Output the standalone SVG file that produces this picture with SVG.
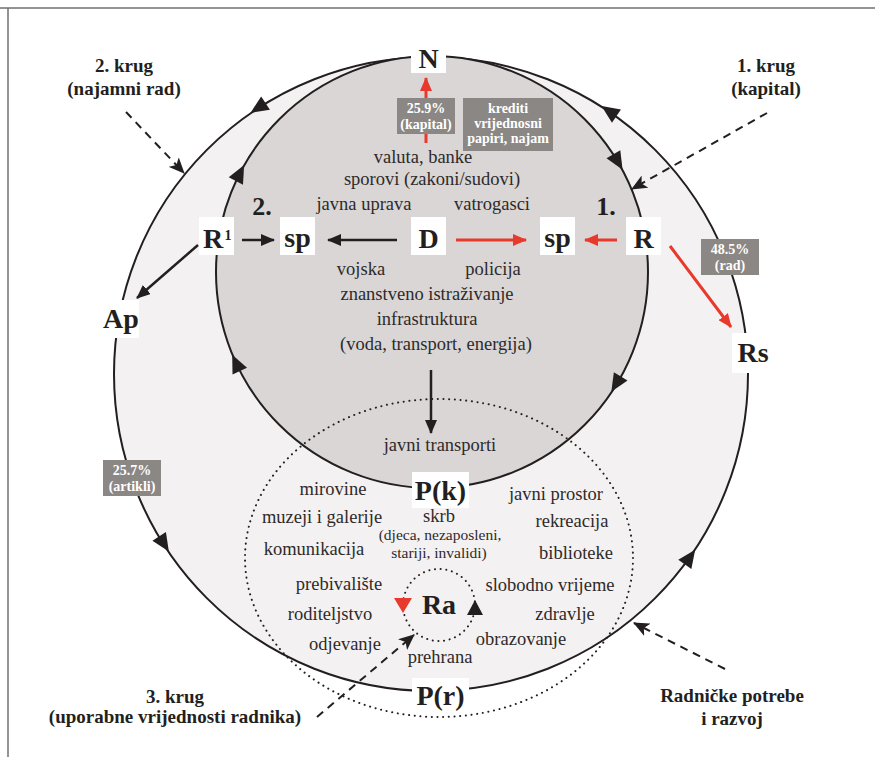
<svg xmlns="http://www.w3.org/2000/svg" width="875" height="757" viewBox="0 0 875 757">
<defs>
<style>
.t{font-family:"Liberation Serif","Times New Roman",serif;font-size:18.5px;fill:#2e2a2a;text-anchor:middle}
.ts{font-size:15.5px}
.b{font-family:"Liberation Serif","Times New Roman",serif;font-weight:bold;fill:#231f20;text-anchor:middle}
.lab{font-size:28px}
.kr{font-size:19px}
.gw{font-family:"Liberation Serif","Times New Roman",serif;font-weight:bold;font-size:14px;fill:#ffffff;text-anchor:middle}
.gbox{fill:#8b8784}
.wbox{fill:#ffffff}
.circ{stroke:#231f20;stroke-width:2}
.blk{stroke:#231f20;stroke-width:2.5;fill:none}
.red{stroke:#e8392d;stroke-width:3;fill:none}
.dash{stroke:#231f20;stroke-width:2;stroke-dasharray:8 6;fill:none}
.dot{stroke:#231f20;stroke-width:2;stroke-dasharray:0.1 5.6;stroke-linecap:round;fill:none}
.tri{fill:#231f20}
</style>
<marker id="mb" markerUnits="userSpaceOnUse" markerWidth="14" markerHeight="12" refX="13" refY="6" orient="auto"><path d="M0,0 L14,6 L0,12 z" fill="#231f20"/></marker>
<marker id="mr" markerUnits="userSpaceOnUse" markerWidth="14" markerHeight="12" refX="13" refY="6" orient="auto"><path d="M0,0 L14,6 L0,12 z" fill="#e8392d"/></marker>
<marker id="md" markerUnits="userSpaceOnUse" markerWidth="16" markerHeight="14" refX="15" refY="7" orient="auto"><path d="M0,0 L16,7 L0,14 L4,7 z" fill="#231f20"/></marker>
<path id="ah" d="M9,0 L-9,-8 L-9,8 z"/>
</defs>

<rect x="0" y="0" width="875" height="757" fill="#ffffff"/>
<g id="frame" stroke="#6f6f6f" stroke-width="1.5" fill="none">
<path d="M0,8 H875"/>
<path d="M8,8 V757"/>
</g>

<g id="circles">
<circle id="outer-circle" class="circ" cx="431" cy="374" r="317" fill="#f4f1f2"/>
<circle id="inner-circle" class="circ" cx="432" cy="272" r="216" fill="#d9d6d5"/>
<ellipse id="dotted-circle" class="dot" cx="439" cy="558" rx="194" ry="159"/>
<circle id="ra-circle" class="dot" cx="439" cy="605" r="36"/>
</g>

<g id="circle-arrowheads" class="tri">
<use href="#ah" transform="translate(258,108) rotate(146.9)"/>
<use href="#ah" transform="translate(609,111) rotate(-145.9)"/>
<use href="#ah" transform="translate(690,557) rotate(-54.8)"/>
<use href="#ah" transform="translate(164,544) rotate(57.5)"/>
<use href="#ah" transform="translate(240,173) rotate(-62.7)"/>
<use href="#ah" transform="translate(618,162) rotate(59.3)"/>
<use href="#ah" transform="translate(616,384) rotate(121.3)"/>
<use href="#ah" transform="translate(236,363) rotate(-114.9)"/>
<path d="M394,598 L412,598 L403,613 z" fill="#e8392d"/>
<path d="M467,615 L483,615 L475,600 z" fill="#231f20"/>
</g>

<g id="connectors">
<path class="blk" d="M242,240 H274" marker-end="url(#mb)"/>
<path class="blk" d="M397,240 H328" marker-end="url(#mb)"/>
<path class="blk" d="M198,245 L137,298" marker-end="url(#mb)"/>
<path class="blk" d="M431,370 V433" marker-end="url(#mb)"/>
<path class="red" d="M456,240 H526" marker-end="url(#mr)"/>
<path class="red" d="M617,240 H585" marker-end="url(#mr)"/>
<path class="red" d="M670,246 L731,327" marker-end="url(#mr)"/>
<path class="red" d="M426,143 V78" marker-end="url(#mr)"/>
<path class="dash" d="M126,112 L184,173" marker-end="url(#md)"/>
<path class="dash" d="M767,113 L632,189" marker-end="url(#md)"/>
<path class="dash" d="M725,669 L634,623" marker-end="url(#md)"/>
<path class="dash" d="M317,717 L414,635" marker-end="url(#md)"/>
</g>

<g id="label-kapital-259">
<rect class="gbox" x="397" y="98" width="58" height="36"/>
<text class="gw" x="426" y="113">25.9%</text>
<text class="gw" x="426" y="129">(kapital)</text>
</g>
<g id="label-krediti">
<rect class="gbox" x="463" y="98" width="90" height="53"/>
<text class="gw" x="508" y="113">krediti</text>
<text class="gw" x="508" y="128">vrijednosni</text>
<text class="gw" x="508" y="143">papiri, najam</text>
</g>
<g id="label-rad-485">
<rect class="gbox" x="701" y="239" width="58" height="36"/>
<text class="gw" x="730" y="254">48.5%</text>
<text class="gw" x="730" y="270">(rad)</text>
</g>
<g id="label-artikli-257">
<rect class="gbox" x="103" y="460" width="58" height="36"/>
<text class="gw" x="132" y="475">25.7%</text>
<text class="gw" x="132" y="491">(artikli)</text>
</g>

<g id="node-N"><rect class="wbox" x="411" y="50" width="35" height="23"/><text class="b lab" x="428.5" y="68">N</text></g>
<g id="node-R1"><rect class="wbox" x="199" y="217" width="35" height="38"/><text class="b lab" x="213" y="248">R</text><text class="b" style="font-size:14px" x="228" y="240">1</text></g>
<g id="node-sp2"><rect class="wbox" x="280" y="217" width="35" height="38"/><text class="b lab" x="297.5" y="247">sp</text></g>
<g id="node-D"><rect class="wbox" x="411" y="217" width="35" height="38"/><text class="b lab" x="428.5" y="248">D</text></g>
<g id="node-sp1"><rect class="wbox" x="540" y="217" width="35" height="38"/><text class="b lab" x="557.5" y="247">sp</text></g>
<g id="node-R"><rect class="wbox" x="626" y="217" width="35" height="38"/><text class="b lab" x="643.5" y="248">R</text></g>
<g id="node-Ap"><rect class="wbox" x="103" y="300" width="36" height="38"/><text class="b lab" x="121" y="328">Ap</text></g>
<g id="node-Rs"><rect class="wbox" x="732" y="333" width="44" height="40"/><text class="b lab" x="753" y="362">Rs</text></g>
<g id="node-Pk"><rect class="wbox" x="412" y="472" width="57" height="36"/><text class="b lab" x="440.5" y="500">P(k)</text></g>
<g id="node-Pr"><rect class="wbox" x="412" y="678" width="57" height="35"/><text class="b lab" x="440.5" y="705">P(r)</text></g>
<g id="node-Ra"><text class="b" style="font-size:28px" x="439" y="614">Ra</text></g>

<g id="circle-numbers">
<text class="b" style="font-size:26px" x="262" y="215">2.</text>
<text class="b" style="font-size:26px" x="606" y="215">1.</text>
</g>

<g id="state-texts">
<text class="t" x="423" y="163">valuta, banke</text>
<text class="t" x="432" y="185">sporovi (zakoni/sudovi)</text>
<text class="t" x="364" y="210">javna uprava</text>
<text class="t" x="492" y="210">vatrogasci</text>
<text class="t" x="361" y="275">vojska</text>
<text class="t" x="493" y="275">policija</text>
<text class="t" x="427" y="300">znanstveno istraživanje</text>
<text class="t" x="427" y="325">infrastruktura</text>
<text class="t" x="436" y="350">(voda, transport, energija)</text>
<text class="t" x="440" y="451">javni transporti</text>
</g>

<g id="worker-texts">
<text class="t" x="333" y="495">mirovine</text>
<text class="t" x="322" y="523">muzeji i galerije</text>
<text class="t" x="314" y="555">komunikacija</text>
<text class="t" x="439" y="522">skrb</text>
<text class="t ts" x="440" y="540">(djeca, nezaposleni,</text>
<text class="t ts" x="439" y="558">stariji, invalidi)</text>
<text class="t" x="556" y="500">javni prostor</text>
<text class="t" x="572" y="527">rekreacija</text>
<text class="t" x="576" y="559">biblioteke</text>
<text class="t" x="339" y="590">prebivalište</text>
<text class="t" x="330" y="620">roditeljstvo</text>
<text class="t" x="345" y="650">odjevanje</text>
<text class="t" x="550" y="591">slobodno vrijeme</text>
<text class="t" x="565" y="620">zdravlje</text>
<text class="t" x="521" y="645">obrazovanje</text>
<text class="t" x="440" y="663">prehrana</text>
</g>

<g id="krug-labels">
<text class="b kr" x="124" y="72">2. krug</text>
<text class="b kr" x="124" y="95">(najamni rad)</text>
<text class="b kr" x="766" y="72">1. krug</text>
<text class="b kr" x="766" y="95">(kapital)</text>
<text class="b kr" x="175" y="703">3. krug</text>
<text class="b kr" x="175" y="723">(uporabne vrijednosti radnika)</text>
<text class="b kr" x="732" y="702">Radničke potrebe</text>
<text class="b kr" x="732" y="725">i razvoj</text>
</g>
</svg>
